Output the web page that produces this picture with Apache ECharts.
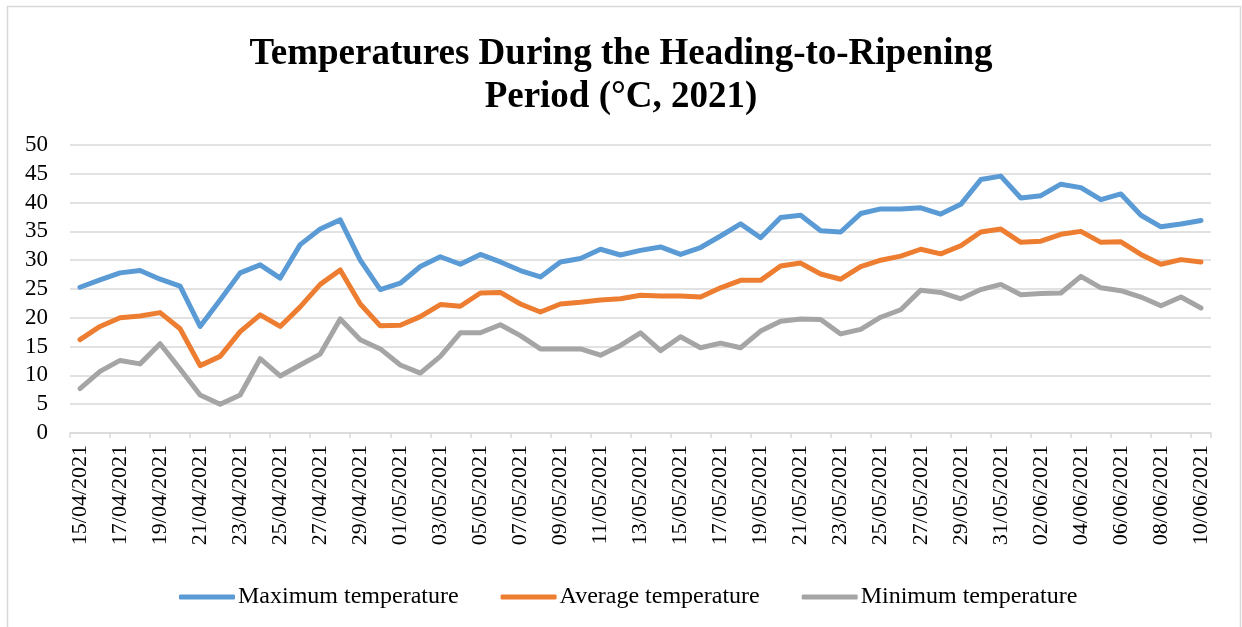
<!DOCTYPE html>
<html>
<head>
<meta charset="utf-8">
<title>Temperatures During the Heading-to-Ripening Period</title>
<script src="https://cdn.jsdelivr.net/npm/echarts@6/dist/echarts.min.js"></script>
<style>
  html, body { margin: 0; padding: 0; background: #fff; }
  #chart { width: 1242px; height: 627px; }
</style>
</head>
<body>
<div id="chart"></div>
<script>
const dates = [
  '15/04/2021', '16/04/2021', '17/04/2021', '18/04/2021', '19/04/2021', '20/04/2021',
  '21/04/2021', '22/04/2021', '23/04/2021', '24/04/2021', '25/04/2021', '26/04/2021',
  '27/04/2021', '28/04/2021', '29/04/2021', '30/04/2021', '01/05/2021', '02/05/2021',
  '03/05/2021', '04/05/2021', '05/05/2021', '06/05/2021', '07/05/2021', '08/05/2021',
  '09/05/2021', '10/05/2021', '11/05/2021', '12/05/2021', '13/05/2021', '14/05/2021',
  '15/05/2021', '16/05/2021', '17/05/2021', '18/05/2021', '19/05/2021', '20/05/2021',
  '21/05/2021', '22/05/2021', '23/05/2021', '24/05/2021', '25/05/2021', '26/05/2021',
  '27/05/2021', '28/05/2021', '29/05/2021', '30/05/2021', '31/05/2021', '01/06/2021',
  '02/06/2021', '03/06/2021', '04/06/2021', '05/06/2021', '06/06/2021', '07/06/2021',
  '08/06/2021', '09/06/2021', '10/06/2021'
];

const maxTemp = [
  25.3, 26.6, 27.8, 28.2, 26.7, 25.5, 18.5, 23.1, 27.8, 29.2, 26.9, 32.7,
  35.4, 37.0, 30.0, 24.9, 26.0, 28.9, 30.6, 29.3, 31.0, 29.7, 28.2, 27.1,
  29.7, 30.3, 31.9, 30.9, 31.7, 32.3, 31.0, 32.2, 34.2, 36.3, 33.9, 37.4,
  37.8, 35.1, 34.9, 38.1, 38.9, 38.9, 39.1, 38.0, 39.7, 44.0, 44.6, 40.8,
  41.2, 43.2, 42.6, 40.5, 41.5, 37.8, 35.8, 36.3, 36.9
];

const avgTemp = [
  16.2, 18.5, 20.0, 20.3, 20.9, 18.1, 11.7, 13.3, 17.6, 20.5, 18.5, 21.9,
  25.8, 28.3, 22.4, 18.6, 18.7, 20.2, 22.3, 22.0, 24.3, 24.4, 22.4, 21.0,
  22.4, 22.7, 23.1, 23.3, 23.9, 23.8, 23.8, 23.6, 25.2, 26.5, 26.5, 29.0,
  29.5, 27.6, 26.7, 28.9, 30.0, 30.7, 31.9, 31.1, 32.5, 34.9, 35.4, 33.1,
  33.3, 34.5, 35.0, 33.1, 33.2, 31.0, 29.3, 30.1, 29.7
];

const minTemp = [
  7.7, 10.7, 12.6, 12.0, 15.5, 11.1, 6.6, 5.0, 6.6, 12.9, 9.9, 11.8,
  13.7, 19.8, 16.2, 14.6, 11.8, 10.4, 13.3, 17.4, 17.4, 18.8, 16.9, 14.6,
  14.6, 14.6, 13.5, 15.2, 17.4, 14.3, 16.7, 14.8, 15.6, 14.8, 17.7, 19.4,
  19.8, 19.7, 17.2, 18.0, 20.1, 21.4, 24.8, 24.4, 23.3, 24.9, 25.8, 24.0,
  24.2, 24.3, 27.2, 25.2, 24.7, 23.6, 22.1, 23.6, 21.7
];

const seriesNames = ['Maximum temperature', 'Average temperature', 'Minimum temperature'];
const seriesColors = ['#5B9BD5', '#ED7D31', '#A5A5A5'];

const serif = '"Liberation Serif", "Times New Roman", serif';

function lineSeries(name, values, color) {
  return {
    type: 'line',
    name: name,
    data: values,
    symbol: 'none',
    smooth: false,
    lineStyle: { color: color, width: 5, join: 'round', cap: 'round' },
    itemStyle: { color: color },
  };
}

const chart = echarts.init(document.getElementById('chart'), null, { renderer: 'canvas' });

const option = {
  animation: false,
  backgroundColor: '#ffffff',
  color: seriesColors,
  textStyle: { fontFamily: serif, color: '#000' },
  title: {
    text: 'Temperatures During the Heading-to-Ripening\nPeriod (°C, 2021)',
    left: 'center',
    top: 28,
    textStyle: {
      fontFamily: serif,
      fontWeight: 'bold',
      fontSize: 37,
      lineHeight: 43,
      color: '#000',
    },
  },
  legend: {
    data: seriesNames,
    left: 174,
    top: 580,
    icon: 'roundRect',
    itemWidth: 56,
    itemHeight: 5,
    itemGap: 42,
    textStyle: { fontFamily: serif, fontSize: 24, color: '#000', padding: [0, 0, 0, -2] },
  },
  grid: {
    left: 70,
    right: 31,
    top: 145,
    bottom: 194,
    containLabel: false,
  },
  xAxis: {
    type: 'category',
    data: dates,
    boundaryGap: true,
    axisLine: { show: true, lineStyle: { color: '#D9D9D9', width: 1.5 } },
    axisTick: { show: true, interval: 1, length: 5, lineStyle: { color: '#D9D9D9', width: 1.5 } },
    axisLabel: {
      interval: 1,
      rotate: 90,
      margin: 12,
      fontFamily: serif,
      fontSize: 22,
      color: '#000',
    },
    splitLine: { show: false },
  },
  yAxis: {
    type: 'value',
    min: 0,
    max: 50,
    interval: 5,
    axisLine: { show: false },
    axisTick: { show: false },
    axisLabel: { margin: 22, fontFamily: serif, fontSize: 23, color: '#000' },
    splitLine: { show: true, lineStyle: { color: '#D9D9D9', width: 1.5 } },
  },
  graphic: [
    {
      type: 'rect',
      silent: true,
      shape: { x: 7.5, y: 6.5, width: 1233, height: 640 },
      style: { fill: 'none', stroke: '#D9D9D9', lineWidth: 1.5 },
    },
  ],
  series: [
    lineSeries(seriesNames[0], maxTemp, seriesColors[0]),
    lineSeries(seriesNames[1], avgTemp, seriesColors[1]),
    lineSeries(seriesNames[2], minTemp, seriesColors[2]),
  ],
};

chart.setOption(option);
</script>
</body>
</html>
